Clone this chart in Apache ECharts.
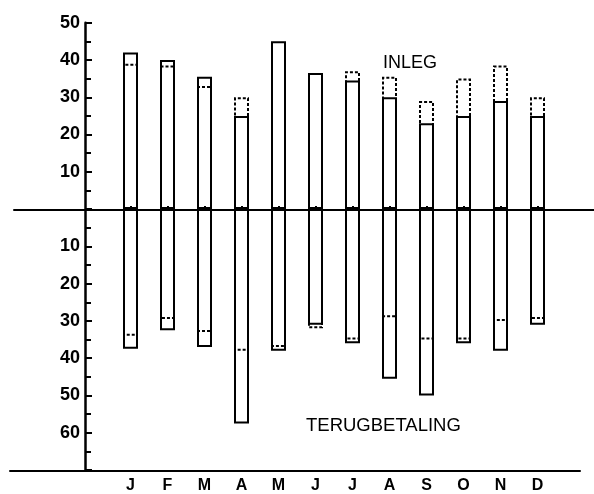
<!DOCTYPE html>
<html>
<head>
<meta charset="utf-8">
<script src="https://cdn.jsdelivr.net/npm/echarts@6/dist/echarts.min.js"></script>
<style>
html,body{margin:0;padding:0;background:#fff;}
#c{width:594px;height:494px;}
</style>
</head>
<body>
<div id="c"></div>
<script>
// Data
const months = ['J','F','M','A','M','J','J','A','S','O','N','D'];
const inlegSolid   = [42, 40, 35.5, 25, 45, 36.5, 34.5, 30, 23, 25, 29, 25];
const inlegDashed  = [39, 38.5, 33, 30, null, null, 37, 35.5, 29, 35, 38.5, 30];
const terugSolid   = [37.5, 32.5, 37, 57.5, 38, 31, 36, 45.5, 50, 36, 38, 31];
const terugDashed  = [34, 29.5, 33, 38, 37, 32, 35, 29, 35, 35, 30, 29.5];
const yMin = -70, yMax = 50, yStep = 10;

const neg = a => a.map(v => v == null ? null : -v);
const FONT = '"Liberation Sans", Arial, sans-serif';

const solidStyle = {color: 'rgba(255,255,255,0)', borderColor: '#000', borderWidth: 2};
const dashStyle = {color: 'rgba(255,255,255,0)', borderColor: '#000', borderWidth: 2, borderType: [3, 2]};

function barSeries(data, style, z) {
  return {type: 'bar', xAxisIndex: 0, yAxisIndex: 0, data: data, barWidth: 15, barGap: '-100%',
    itemStyle: style, z: z, silent: true, animation: false};
}

const chart = echarts.init(document.getElementById('c'), null, {renderer: 'canvas'});
chart.setOption({
  animation: false,
  backgroundColor: '#fff',
  grid: [
    {left: 112, right: 38, top: 22.7, bottom: 23.3},
    {left: 14, right: 0, top: 22.7, bottom: 23.3},
    {left: 10, right: 14, top: 22.7, bottom: 23.3}
  ],
  xAxis: [
    {type: 'category', gridIndex: 0, data: months, boundaryGap: true,
      axisLine: {show: false},
      axisTick: {show: true, inside: true, length: 3, alignWithLabel: true, lineStyle: {color: '#000', width: 2}},
      axisLabel: {color: '#000', fontFamily: FONT, fontSize: 16, fontWeight: 'bold', margin: 8},
      splitLine: {show: false}},
    {type: 'value', gridIndex: 1, min: 0, max: 1,
      axisLine: {show: true, onZero: true, lineStyle: {color: '#000', width: 2}},
      axisTick: {show: false}, axisLabel: {show: false}, splitLine: {show: false}},
    {type: 'value', gridIndex: 2, min: 0, max: 1, position: 'bottom',
      axisLine: {show: true, onZero: false, lineStyle: {color: '#000', width: 2}},
      axisTick: {show: false}, axisLabel: {show: false}, splitLine: {show: false}}
  ],
  yAxis: [
    {type: 'value', gridIndex: 0, min: yMin, max: yMax, interval: yStep, offset: 27,
      axisLine: {show: true, lineStyle: {color: '#000', width: 2.5}},
      axisTick: {show: true, inside: true, length: 7, lineStyle: {color: '#000', width: 2}},
      minorTick: {show: true, splitNumber: 2, length: 6, lineStyle: {color: '#000', width: 2}},
      axisLabel: {color: '#000', fontFamily: FONT, fontSize: 18, fontWeight: 'bold', margin: 5,
        formatter: v => (v === 0 || v === yMin) ? '' : String(Math.abs(v))},
      splitLine: {show: false}},
    {type: 'value', gridIndex: 1, min: yMin, max: yMax, show: false},
    {type: 'value', gridIndex: 2, min: yMin, max: yMax, show: false}
  ],
  graphic: [
    {type: 'text', left: 383, top: 54, style: {text: 'INLEG', fill: '#000', font: '18px ' + FONT}},
    {type: 'text', left: 306, top: 416, style: {text: 'TERUGBETALING', fill: '#000', font: '18.5px ' + FONT}}
  ],
  series: [
    barSeries(inlegDashed, dashStyle, 2),
    barSeries(neg(terugDashed), dashStyle, 2),
    barSeries(inlegSolid, solidStyle, 3),
    barSeries(neg(terugSolid), solidStyle, 3),
    {type: 'line', xAxisIndex: 1, yAxisIndex: 1, data: [], silent: true},
    {type: 'line', xAxisIndex: 2, yAxisIndex: 2, data: [], silent: true}
  ]
});
</script>
</body>
</html>
